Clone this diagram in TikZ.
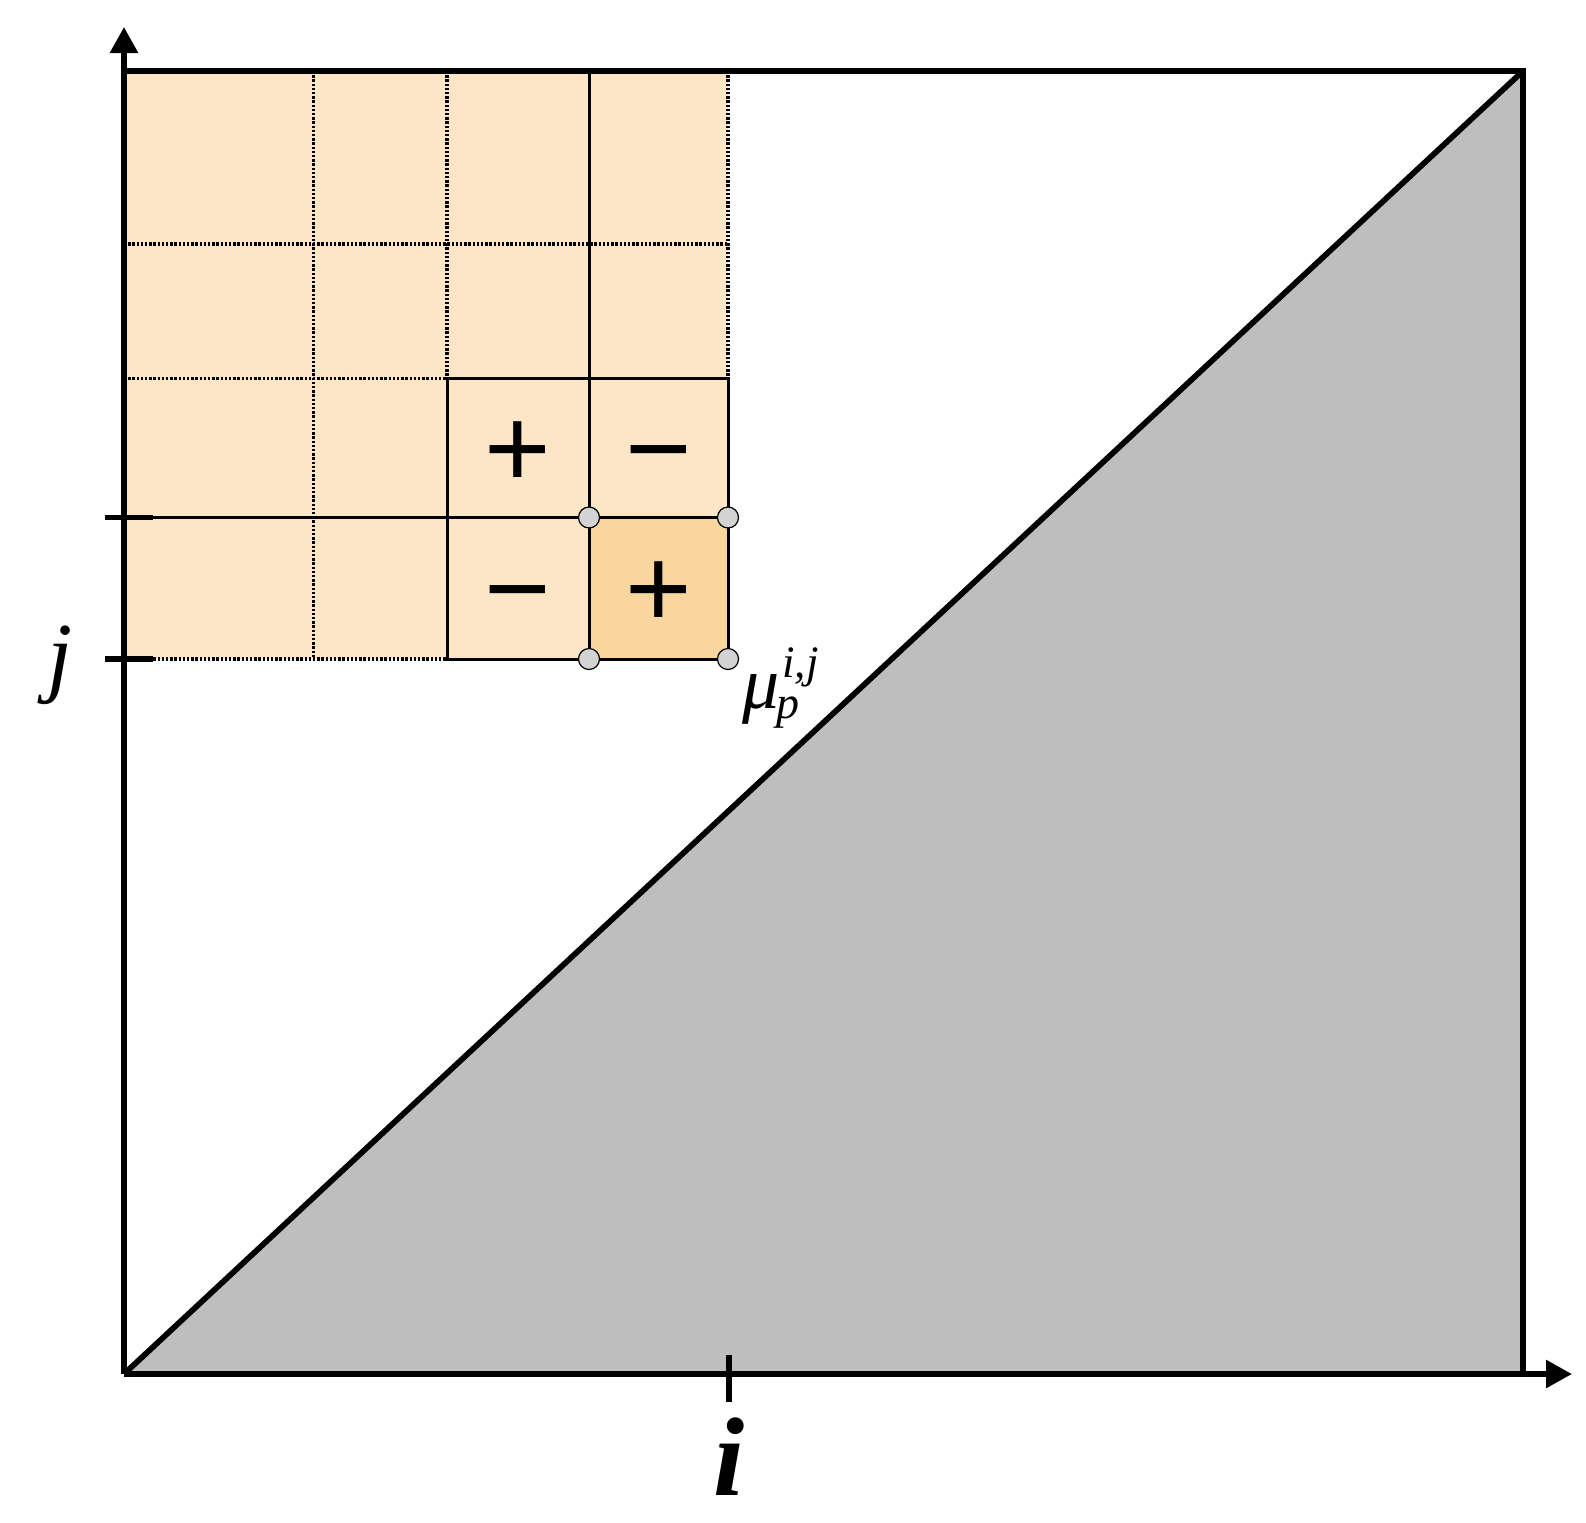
\documentclass[tikz,border=0pt]{standalone}
\usepackage{fontspec}
\setmainfont{Liberation Serif}
\newfontfamily\signfont{Liberation Sans}
\usetikzlibrary{arrows.meta}
\definecolor{lightpeach}{HTML}{FCE6C6}
\definecolor{darkpeach}{HTML}{F8D69D}
\definecolor{trigray}{HTML}{BEBEBE}
\definecolor{dotgray}{HTML}{D3D3D3}
\begin{document}
\begin{tikzpicture}[x=0.5pt,y=-0.5pt,
  thickline/.style={line width=2.85pt},
  thinline/.style={line width=1.5pt},
  dotline/.style={line width=1.6pt, dash pattern=on 1.2pt off 0.9pt},
  corner/.style={circle, draw, line width=0.6pt, fill=dotgray, minimum size=10.5pt, inner sep=0pt},
  sign/.style={font=\signfont\fontsize{57}{57}\selectfont, inner sep=0pt, anchor=base},
  axtip/.style={-{Triangle[length=13pt,width=13.5pt]}}
]
\useasboundingbox (0,0) rectangle (1586,1522);
\coordinate (O) at (124,1374);
\coordinate (TL) at (124,71);
\coordinate (TR) at (1523,71);
\coordinate (BR) at (1523,1374);
\coordinate (ytip) at (124,27);
\coordinate (xtip) at (1572,1374);
% fills
\fill[lightpeach] (124,71) rectangle (728,659);
\fill[darkpeach] (589,517.5) rectangle (728,659);
\fill[trigray] (O) -- (TR) -- (BR) -- cycle;
% dotted grid
\draw[dotline] (313.5,71) -- (313.5,659);
\draw[dotline] (447,71) -- (447,378.5);
\draw[dotline] (728,71) -- (728,378.5);
\draw[dotline] (124,244) -- (728,244);
\draw[dotline] (124,378.5) -- (447,378.5);
\draw[dotline] (124,659) -- (447,659);
% solid grid
\draw[thinline] (589,71) -- (589,659);
\draw[thinline] (124,517.5) -- (728,517.5);
\draw[thinline] (447,378.5) rectangle (728,659);
% frame, diagonal, axes
\draw[thickline] (TL) -- (TR) -- (BR);
\draw[thickline] (O) -- (TR);
\draw[thickline,axtip] (O) -- (ytip);
\draw[thickline,axtip] (O) -- (xtip);
% ticks
\draw[thickline] (105,517.5) -- (153,517.5);
\draw[thickline] (105,659) -- (153,659);
\draw[thickline] (729,1355) -- (729,1402);
% corner points
\node[corner] (c1) at (589,517.5) {};
\node[corner] (c2) at (728,517.5) {};
\node[corner] (c3) at (589,659) {};
\node[corner] (c4) at (728,659) {};
% signs
\node[sign] (s1) at (518,487) {+};
\node[sign] (s2) at (658.5,487) {−};
\node[sign] (s3) at (518,627.3) {−};
\node[sign] (s4) at (658.5,627.3) {+};
% labels
\node[font=\itshape\fontsize{45}{45}\selectfont, inner sep=0pt, anchor=base] (jlab) at (60,685) {j};
\node[font=\bfseries\itshape\fontsize{56}{56}\selectfont, inner sep=0pt, anchor=base] (ilab) at (729,1495) {i};
\node[font=\itshape\fontsize{37}{37}\selectfont, inner sep=0pt, anchor=base west] (mulab) at (742,708)
  {\rlap{μ}\rlap{\hspace{20pt}\raisebox{15.5pt}{\fontsize{22.5}{22.5}\selectfont i,j}}\hspace{17pt}\raisebox{-5pt}{\fontsize{23}{23}\selectfont p}};
\end{tikzpicture}
\end{document}
